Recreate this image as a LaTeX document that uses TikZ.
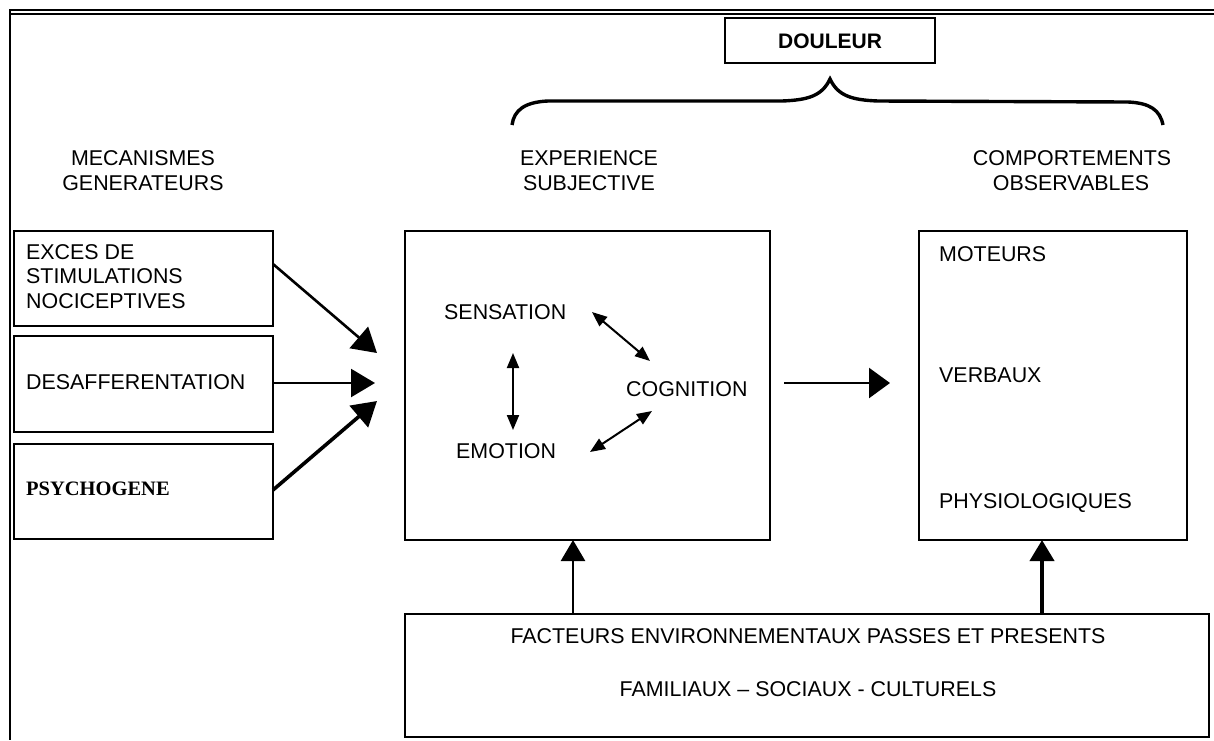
\documentclass[tikz,border=0pt]{standalone}
\usepackage{fontspec}
\setmainfont{Liberation Sans}
\newfontfamily\serifbold{Liberation Serif}
\usetikzlibrary{arrows.meta}
\tikzset{
  box/.style={draw, line width=2.8pt, inner sep=0pt},
  lbl/.style={inner sep=0pt, font=\fontsize{21.4}{25}\selectfont},
  bigarrow/.style={line width=2.6pt, -{Triangle[length=24pt,width=28pt]}},
  midarrow/.style={line width=2.4pt, -{Triangle[length=21pt,width=30pt]}},
  uparrow/.style={line width=2.6pt, -{Triangle[length=21pt,width=24pt]}},
  dblarrow/.style={line width=2pt, {Triangle[length=15pt,width=12pt]}-{Triangle[length=15pt,width=12pt]}}
}
\begin{document}
\begin{tikzpicture}[x=1pt,y=-1pt]
\useasboundingbox (0,0) rectangle (1214,740);
% frame
\draw[line width=1.8pt] (9,10) -- (1214,10);
\draw[line width=1.8pt] (9,13.8) -- (1214,13.8);
\draw[line width=2.6pt] (10,10) -- (10,740);
% DOULEUR
\draw[box] (725,18) rectangle (935,63);
\node[lbl, anchor=base, font=\fontsize{21}{25}\selectfont\bfseries] (douleur) at (830,48) {DOULEUR};
% brace
\draw[line width=3.4pt] (512,125) .. controls (514,110) and (525,102) .. (548,101) -- (782,101) .. controls (808,100) and (822,96) .. (830,79) .. controls (838,96) and (852,100) .. (878,101) -- (1128,102) .. controls (1150,103) and (1160,110) .. (1163,125);
% headings
\node[lbl, anchor=base] (h1a) at (143,165) {MECANISMES};
\node[lbl, anchor=base] (h1b) at (143,190) {GENERATEURS};
\node[lbl, anchor=base] (h2a) at (589,165) {EXPERIENCE};
\node[lbl, anchor=base] (h2b) at (589,190) {SUBJECTIVE};
\node[lbl, anchor=base] (h3a) at (1072,165) {COMPORTEMENTS};
\node[lbl, anchor=base] (h3b) at (1071,190) {OBSERVABLES};
% left boxes
\draw[box] (14,231) rectangle (273,326);
\node[lbl, anchor=base west] (exc1) at (26,259) {EXCES DE};
\node[lbl, anchor=base west] (exc2) at (26,283.5) {STIMULATIONS};
\node[lbl, anchor=base west] (exc3) at (26,308) {NOCICEPTIVES};
\draw[box] (14,336) rectangle (273,432);
\node[lbl, anchor=base west] (desaff) at (26,389) {DESAFFERENTATION};
\draw[box] (14,444) rectangle (273,539);
\node[lbl, anchor=base west, font=\fontsize{20.5}{25}\serifbold\bfseries] (psy) at (26,495) {PSYCHOGENE};
% center box
\draw[box] (405,231) rectangle (770,540);
\node[lbl, anchor=base west] (sens) at (444,319) {SENSATION};
\node[lbl, anchor=base west] (emo) at (456,458) {EMOTION};
\node[lbl, anchor=base west] (cog) at (626,396) {COGNITION};
% right box
\draw[box] (919,231) rectangle (1187,540);
\node[lbl, anchor=base west] (mot) at (939,261) {MOTEURS};
\node[lbl, anchor=base west] (verb) at (939,382) {VERBAUX};
\node[lbl, anchor=base west] (phys) at (939,508) {PHYSIOLOGIQUES};
% bottom box
\draw[box] (405,614) rectangle (1209,737);
\node[lbl, anchor=base] (fact) at (808,643) {FACTEURS ENVIRONNEMENTAUX PASSES ET PRESENTS};
\node[lbl, anchor=base] (fam) at (808,696) {FAMILIAUX -- SOCIAUX - CULTURELS};
% arrow coordinates
\coordinate (a1s) at (273,264);
\coordinate (a1e) at (377,353);
\coordinate (a2s) at (273,383);
\coordinate (a2e) at (375,383);
\coordinate (a3s) at (273,490);
\coordinate (a3e) at (377,401);
\coordinate (ms) at (784,383);
\coordinate (me) at (890,383);
\coordinate (u1s) at (573,614);
\coordinate (u1e) at (573,540);
\coordinate (u2s) at (1042,614);
\coordinate (u2e) at (1042,540);
\coordinate (sc1) at (592,312);
\coordinate (sc2) at (650,361);
\coordinate (se1) at (513,353);
\coordinate (se2) at (513,430);
\coordinate (ec1) at (590,452);
\coordinate (ec2) at (652,411);
\draw[bigarrow] (a1s) -- (a1e);
\draw[bigarrow, line width=2.4pt] (a2s) -- (a2e);
\draw[bigarrow, line width=3.6pt] (a3s) -- (a3e);
\draw[midarrow] (ms) -- (me);
\draw[uparrow] (u1s) -- (u1e);
\draw[uparrow, line width=4pt] (u2s) -- (u2e);
\draw[dblarrow] (sc1) -- (sc2);
\draw[dblarrow] (se1) -- (se2);
\draw[dblarrow] (ec1) -- (ec2);
\end{tikzpicture}
\end{document}
